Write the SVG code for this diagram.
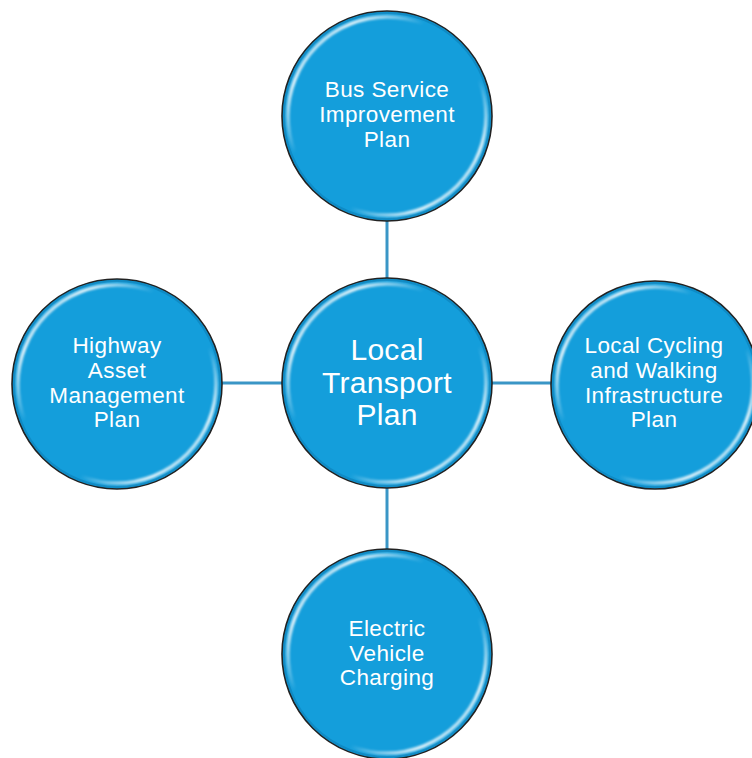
<svg xmlns="http://www.w3.org/2000/svg" width="752" height="758" viewBox="0 0 752 758">
  <defs>
    <linearGradient id="gloss" x1="0" y1="0" x2="1" y2="1">
      <stop offset="0" stop-color="#ffffff" stop-opacity="0"/>
      <stop offset="0.18" stop-color="#ffffff" stop-opacity="0.85"/>
      <stop offset="0.36" stop-color="#ffffff" stop-opacity="0"/>
      <stop offset="0.64" stop-color="#ffffff" stop-opacity="0"/>
      <stop offset="0.82" stop-color="#ffffff" stop-opacity="0.85"/>
      <stop offset="1" stop-color="#ffffff" stop-opacity="0"/>
    </linearGradient>
    <filter id="soft" x="-10%" y="-10%" width="120%" height="120%">
      <feGaussianBlur stdDeviation="1.2"/>
    </filter>
  </defs>
  <style>
    .disc { fill: #149edb; stroke: #222222; stroke-width: 1.6; }
    .shine { fill: none; stroke: url(#gloss); stroke-width: 3.5; filter: url(#soft); }
    .edge { fill: none; stroke: #0a78b0; stroke-width: 2; opacity: 0.5; }
    .lbl { fill: #ffffff; font-family: "Liberation Sans", Arial, sans-serif; font-size: 22.5px; letter-spacing: 0.4px; text-anchor: middle; }
    .big { font-size: 30px; letter-spacing: 0.3px; }
    .conn { stroke: #3a96c6; stroke-width: 3; fill: none; }
  </style>
  <rect width="752" height="758" fill="#ffffff"/>
  <g id="connectors">
    <line class="conn" x1="387" y1="220" x2="387" y2="280"/>
    <line class="conn" x1="387" y1="486" x2="387" y2="551"/>
    <line class="conn" x1="221" y1="383" x2="284" y2="383"/>
    <line class="conn" x1="490" y1="383" x2="553" y2="383"/>
  </g>
  <g id="node-top">
    <circle class="disc" cx="387" cy="116" r="105"/>
    <circle class="edge" cx="387" cy="116" r="103"/>
    <circle class="shine" cx="387" cy="116" r="99"/>
    <text class="lbl"><tspan x="387" y="97">Bus Service</tspan><tspan x="387" y="122">Improvement</tspan><tspan x="387" y="147">Plan</tspan></text>
  </g>
  <g id="node-center">
    <circle class="disc" cx="387" cy="383" r="105"/>
    <circle class="edge" cx="387" cy="383" r="103"/>
    <circle class="shine" cx="387" cy="383" r="99"/>
    <text class="lbl big"><tspan x="387" y="360">Local</tspan><tspan x="387" y="393">Transport</tspan><tspan x="387" y="425">Plan</tspan></text>
  </g>
  <g id="node-left">
    <circle class="disc" cx="117" cy="384" r="105"/>
    <circle class="edge" cx="117" cy="384" r="103"/>
    <circle class="shine" cx="117" cy="384" r="99"/>
    <text class="lbl"><tspan x="117" y="353">Highway</tspan><tspan x="117" y="378">Asset</tspan><tspan x="117" y="403">Management</tspan><tspan x="117" y="427">Plan</tspan></text>
  </g>
  <g id="node-right">
    <circle class="disc" cx="655" cy="385" r="104"/>
    <circle class="edge" cx="655" cy="385" r="102"/>
    <circle class="shine" cx="655" cy="385" r="98"/>
    <text class="lbl"><tspan x="654" y="353">Local Cycling</tspan><tspan x="654" y="378">and Walking</tspan><tspan x="654" y="403">Infrastructure</tspan><tspan x="654" y="427">Plan</tspan></text>
  </g>
  <g id="node-bottom">
    <circle class="disc" cx="387" cy="654" r="105"/>
    <circle class="edge" cx="387" cy="654" r="103"/>
    <circle class="shine" cx="387" cy="654" r="99"/>
    <text class="lbl"><tspan x="387" y="636">Electric</tspan><tspan x="387" y="661">Vehicle</tspan><tspan x="387" y="685">Charging</tspan></text>
  </g>
</svg>
